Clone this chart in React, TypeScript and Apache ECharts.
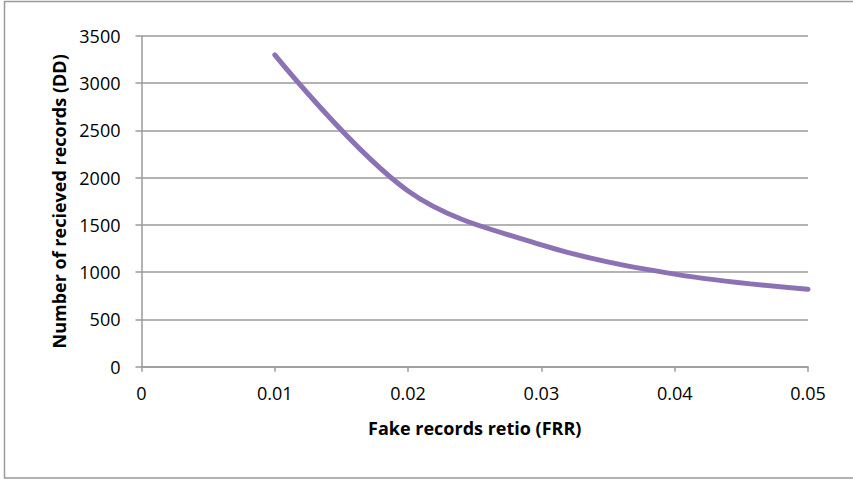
import React, { useEffect, useRef } from "react";
import * as echarts from "echarts";

// Fake records ratio (FRR) against number of received records (DD)
const frr: number[] = [0.01, 0.02, 0.03, 0.04, 0.05];
const received: number[] = [3300, 1860, 1290, 980, 820];

const xTicks = { min: 0, max: 0.05, interval: 0.01 };
const yTicks = { min: 0, max: 3500, interval: 500 };

const xTitle = "Fake records retio (FRR)";
const yTitle = "Number of recieved records (DD)";

const FONT = "'Open Sans', 'Liberation Sans', sans-serif";
const GRAY = "#9a9a9a";

export default function App() {
  const ref = useRef<HTMLDivElement>(null);

  useEffect(() => {
    if (!ref.current) return;
    const chart = echarts.init(ref.current, undefined, { renderer: "svg" });

    chart.setOption({
      animation: false,
      backgroundColor: "#ffffff",
      textStyle: { fontFamily: FONT },
      grid: { left: 141.5, right: 45, top: 36, bottom: 113.3, containLabel: false },
      graphic: [
        {
          type: "rect",
          shape: { x: 4.5, y: 1.5, width: 860, height: 476.5 },
          style: { fill: "none", stroke: GRAY, lineWidth: 1.5 },
          silent: true,
        },
      ],
      xAxis: {
        type: "value",
        min: xTicks.min,
        max: xTicks.max,
        interval: xTicks.interval,
        name: xTitle,
        nameLocation: "middle",
        nameGap: 52,
        nameTextStyle: { fontFamily: FONT, fontSize: 18, fontWeight: "bold", color: "#000" },
        axisLine: { show: true, lineStyle: { color: GRAY, width: 1.5 } },
        axisTick: { show: true, inside: false, length: 5, lineStyle: { color: GRAY, width: 1.5 } },
        axisLabel: {
          margin: 17,
          fontFamily: FONT,
          fontSize: 18,
          color: "#000",
          formatter: (v: number) => (v === 0 ? "0" : v.toFixed(2)),
        },
        splitLine: { show: false },
      },
      yAxis: {
        type: "value",
        min: yTicks.min,
        max: yTicks.max,
        interval: yTicks.interval,
        name: yTitle,
        nameLocation: "middle",
        nameGap: 72,
        nameTextStyle: { fontFamily: FONT, fontSize: 18, fontWeight: "bold", color: "#000" },
        axisLine: { show: true, lineStyle: { color: GRAY, width: 1.5 } },
        axisTick: { show: true, inside: false, length: 6, lineStyle: { color: GRAY, width: 1.5 } },
        axisLabel: {
          margin: 21,
          fontFamily: FONT,
          fontSize: 18,
          color: "#000",
          formatter: (v: number) => String(v),
        },
        splitLine: { show: true, lineStyle: { color: GRAY, width: 1.5 } },
      },
      series: [
        {
          type: "line",
          data: frr.map((x, i) => [x, received[i]]),
          smooth: 0.35,
          showSymbol: false,
          symbol: "none",
          lineStyle: { color: "#8c72b4", width: 5, cap: "round", join: "round" },
        },
      ],
    });

    return () => chart.dispose();
  }, []);

  return (
    <div
      ref={ref}
      style={{ position: "fixed", left: 0, top: 0, width: 853, height: 480 }}
    />
  );
}
